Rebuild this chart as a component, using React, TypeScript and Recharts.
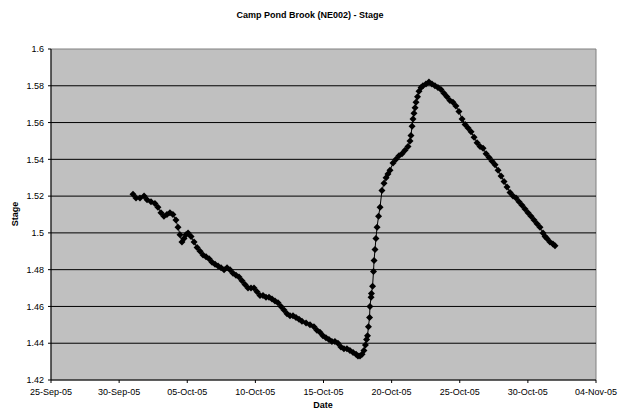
import { ScatterChart, Scatter, XAxis, YAxis, ReferenceArea, ReferenceLine } from 'recharts';

// days since 25-Sep-05
const days = [
  6.02, 6.24, 6.53, 6.83, 7.05, 7.34, 7.63, 7.85, 8.07, 8.29, 8.51, 8.73, 8.95, 9.17, 9.32, 9.47, 9.61, 9.76, 9.91,
  10.06, 10.28, 10.5, 10.72, 10.94, 11.16, 11.38, 11.6, 11.82, 12.04, 12.26, 12.48, 12.7, 12.92, 13.14, 13.36, 13.58,
  13.8, 14.02, 14.24, 14.46, 14.68, 14.9, 15.12, 15.34, 15.56, 15.78, 16.0, 16.22, 16.44, 16.66, 16.88, 17.1, 17.32,
  17.54, 17.76, 17.98, 18.2, 18.42, 18.72, 19.01, 19.3, 19.52, 19.74, 19.96, 20.18, 20.4, 20.62, 20.84, 21.06, 21.28,
  21.5, 21.72, 21.94, 22.17, 22.39, 22.53, 22.68, 22.83, 22.97, 23.08, 23.16, 23.23, 23.3, 23.38, 23.41, 23.49, 23.52,
  23.6, 23.67, 23.71, 23.78, 23.85, 23.93, 24.04, 24.15, 24.29, 24.44, 24.59, 24.73, 24.88, 25.1, 25.32, 25.54, 25.76,
  25.98, 26.2, 26.35, 26.42, 26.5, 26.57, 26.64, 26.72, 26.79, 26.9, 27.01, 27.16, 27.3, 27.52, 27.74, 27.96, 28.18,
  28.4, 28.62, 28.84, 29.06, 29.28, 29.5, 29.72, 29.94, 30.17, 30.39, 30.61, 30.83, 31.05, 31.27, 31.49, 31.71, 31.93,
  32.15, 32.37, 32.59, 32.81, 33.03, 33.25, 33.47, 33.69, 33.91, 34.13, 34.35, 34.57, 34.79, 35.01, 35.23, 35.45,
  35.67, 35.89, 36.11, 36.26, 36.4, 36.62, 36.84, 36.99,
];

const stage = [
  1.521, 1.519, 1.519, 1.52, 1.518, 1.517, 1.516, 1.514, 1.511, 1.509, 1.51, 1.511, 1.51, 1.507, 1.503, 1.499, 1.495, 1.497, 1.499,
  1.5, 1.498, 1.495, 1.492, 1.49, 1.488, 1.487, 1.486, 1.484, 1.483, 1.482, 1.481, 1.48, 1.481, 1.48, 1.478, 1.477,
  1.476, 1.474, 1.472, 1.47, 1.47, 1.47, 1.468, 1.466, 1.466, 1.465, 1.465, 1.464, 1.463, 1.462, 1.46, 1.458, 1.456,
  1.455, 1.455, 1.454, 1.453, 1.452, 1.451, 1.45, 1.449, 1.447, 1.446, 1.444, 1.443, 1.442, 1.441, 1.441, 1.44, 1.438,
  1.437, 1.437, 1.436, 1.435, 1.434, 1.433, 1.433, 1.434, 1.436, 1.439, 1.442, 1.444, 1.449, 1.454, 1.46, 1.465, 1.467,
  1.471, 1.479, 1.485, 1.491, 1.497, 1.503, 1.509, 1.514, 1.523, 1.527, 1.53, 1.532, 1.534, 1.538, 1.54, 1.542, 1.543,
  1.545, 1.547, 1.55, 1.553, 1.558, 1.562, 1.565, 1.568, 1.571, 1.574, 1.577, 1.579, 1.58, 1.581, 1.582, 1.581, 1.58,
  1.579, 1.578, 1.576, 1.574, 1.572, 1.571, 1.569, 1.566, 1.562, 1.559, 1.557, 1.555, 1.552, 1.549, 1.547, 1.546, 1.543,
  1.541, 1.539, 1.537, 1.534, 1.531, 1.528, 1.525, 1.522, 1.52, 1.519, 1.517, 1.515, 1.513, 1.511, 1.509, 1.507,
  1.505, 1.503, 1.5, 1.498, 1.497, 1.495, 1.494, 1.493,
];

const tickDays = [0, 5, 10, 15, 20, 25, 30, 35, 40];
const tickLabels = ['25-Sep-05', '30-Sep-05', '05-Oct-05', '10-Oct-05', '15-Oct-05', '20-Oct-05', '25-Oct-05', '30-Oct-05', '04-Nov-05'];
const stageTicks = [1.42, 1.44, 1.46, 1.48, 1.5, 1.52, 1.54, 1.56, 1.58, 1.6];
const gridStages = [1.44, 1.46, 1.48, 1.5, 1.52, 1.54, 1.56, 1.58];

const data = days.map((d, i) => ({ day: d, stage: stage[i] }));

const FONT = '"Liberation Sans", Arial, sans-serif';

const Diamond = (props: any) => {
  const { cx, cy } = props;
  if (cx == null || cy == null) return null;
  const r = 3.5;
  return <path d={`M${cx},${cy - r}L${cx + r},${cy}L${cx},${cy + r}L${cx - r},${cy}Z`} fill="#000" />;
};

export default function App() {
  return (
    <div style={{ position: 'absolute', left: 0, top: 0, width: 620, height: 414, background: '#fff', fontFamily: FONT }}>
      <div style={{ position: 'absolute', left: 0, width: 620, top: 10, textAlign: 'center', fontSize: 9, fontWeight: 'bold' }}>
        Camp Pond Brook (NE002) - Stage
      </div>
      <div style={{ position: 'absolute', left: 0, width: 620, top: 400, textAlign: 'center', fontSize: 9, fontWeight: 'bold', paddingLeft: 13 }}>
        Date
      </div>
      <div
        style={{
          position: 'absolute',
          left: 15,
          top: 214,
          fontSize: 9,
          fontWeight: 'bold',
          transform: 'translate(-50%, -50%) rotate(-90deg)',
        }}
      >
        Stage
      </div>
      <ScatterChart width={620} height={414} margin={{ top: 49, right: 24, bottom: 0, left: 0 }} style={{ position: 'absolute', left: 0, top: 0 }}>
        <XAxis
          type="number"
          dataKey="day"
          domain={[0, 40]}
          ticks={tickDays}
          tickFormatter={(v: number) => tickLabels[tickDays.indexOf(v)] ?? ''}
          height={34}
          tickSize={3}
          tickMargin={6}
          stroke="#000"
          tick={{ fill: '#000', fontSize: 9, fontFamily: FONT }}
          interval={0}
          allowDataOverflow
        />
        <YAxis
          type="number"
          dataKey="stage"
          domain={[1.42, 1.6]}
          ticks={stageTicks}
          tickFormatter={(v: number) => String(v)}
          width={51}
          tickSize={3}
          tickMargin={4}
          stroke="#000"
          tick={{ fill: '#000', fontSize: 9, fontFamily: FONT }}
          interval={0}
          allowDataOverflow
        />
        <ReferenceArea x1={0} x2={40} y1={1.42} y2={1.6} fill="#C0C0C0" fillOpacity={1} stroke="#808080" strokeWidth={1} />
        {gridStages.map((g) => (
          <ReferenceLine key={g} y={g} stroke="#000" strokeWidth={1} />
        ))}
        <Scatter
          data={data}
          line={{ stroke: '#000', strokeWidth: 1 }}
          lineType="joint"
          shape={<Diamond />}
          isAnimationActive={false}
        />
      </ScatterChart>
    </div>
  );
}
